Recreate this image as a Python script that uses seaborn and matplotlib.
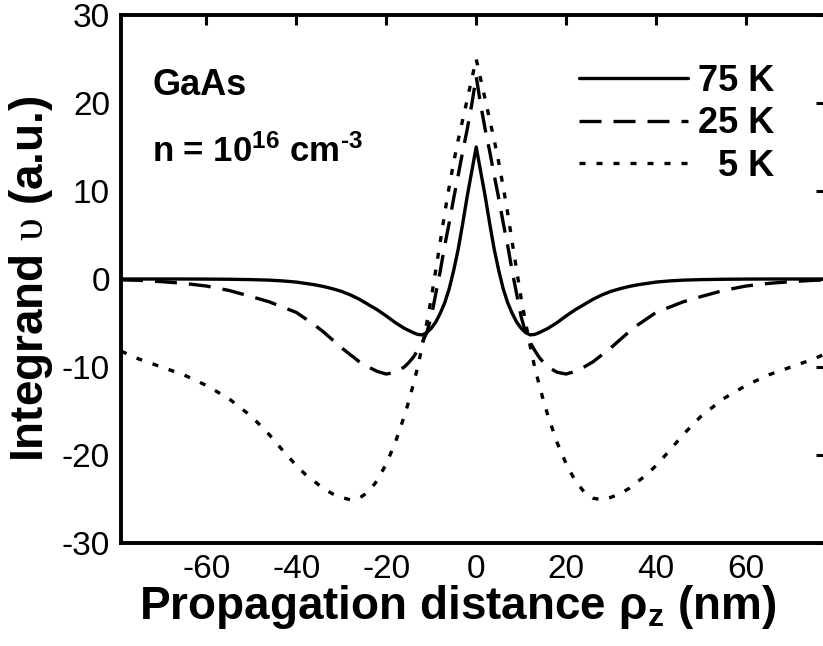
import matplotlib
matplotlib.use("Agg")
import matplotlib.pyplot as plt
import seaborn as sns
import numpy as np

# ---- data ----
X_NM = [-79, -75, -70, -65, -60, -55, -50, -46, -43, -40, -38, -36, -34, -32, -30,
        -28, -26, -24, -22, -20, -18, -16, -15, -14, -13, -12, -11, -10, -9, -8,
        -7, -6, -5, -4, -3, -2, -1, 0, 1, 2, 3, 4, 5, 6, 7, 8, 9, 10, 11, 12, 13,
        14, 15, 16, 18, 20, 22, 24, 26, 28, 30, 32, 34, 36, 38, 40, 43, 46, 50,
        55, 60, 65, 70, 75, 79]

Y_75K = [0, 0, 0, 0, -0.01, -0.03, -0.07, -0.13, -0.22, -0.35, -0.5, -0.65, -0.85, -1.1, -1.4,
         -1.8, -2.3, -2.9, -3.5, -4.2, -4.95, -5.6, -5.85, -6.1, -6.3, -6.35, -6.1, -5.6, -4.9, -3.9,
         -2.7, -1.1, 1.0, 3.4, 6.3, 9.4, 12.2, 15.0, 12.2, 9.4, 6.3, 3.4, 1.0, -1.1, -2.7, -3.9, -4.9, -5.6, -6.1, -6.35, -6.3,
         -6.1, -5.85, -5.6, -4.95, -4.2, -3.5, -2.9, -2.3, -1.8, -1.4, -1.1, -0.85, -0.65, -0.5, -0.35, -0.22, -0.13, -0.07,
         -0.03, -0.01, 0, 0, 0, 0]

Y_25K = [-0.1, -0.15, -0.3, -0.5, -0.8, -1.3, -2.0, -2.6, -3.2, -3.8, -4.5, -5.2, -6.0, -6.9, -7.8,
         -8.6, -9.4, -10.0, -10.5, -10.8, -10.6, -10.0, -9.5, -8.9, -8.1, -7.2, -6.1, -4.3, -1.7, 0.9,
         3.8, 6.4, 9.2, 11.8, 14.5, 17.0, 19.8, 23.0, 19.8, 17.0, 14.5, 11.8, 9.2, 6.4, 3.8, 0.9, -1.7, -4.3, -6.1, -7.2, -8.1,
         -8.9, -9.5, -10.0, -10.6, -10.8, -10.5, -10.0, -9.4, -8.6, -7.8, -6.9, -6.0, -5.2, -4.5, -3.8, -3.2, -2.6, -2.0,
         -1.3, -0.8, -0.5, -0.3, -0.15, -0.1]

Y_5K = [-8.2, -9.1, -10.0, -10.9, -12.1, -13.6, -15.6, -17.7, -19.5, -21.2, -22.2, -23.0, -23.8, -24.4, -24.8,
        -25.1, -24.9, -24.2, -22.9, -21.0, -18.6, -15.6, -13.9, -12.0, -10.0, -7.6, -5.0, -2.2, 1.0, 4.2,
        7.5, 10.5, 13.3, 15.8, 18.1, 20.4, 22.7, 25.0, 22.7, 20.4, 18.1, 15.8, 13.3, 10.5, 7.5, 4.2, 1.0, -2.2, -5.0, -7.6, -10.0,
        -12.0, -13.9, -15.6, -18.6, -21.0, -22.9, -24.2, -24.9, -25.1, -24.8, -24.4, -23.8, -23.0, -22.2, -21.2, -19.5, -17.7, -15.6,
        -13.6, -12.1, -10.9, -10.0, -9.1, -8.2]

SERIES_LABELS = ["75 K", "25 K", "  5 K"]
X_TICKS = [-60, -40, -20, 0, 20, 40, 60]
Y_TICKS = [-30, -20, -10, 0, 10, 20, 30]

# ---- style ----
sns.set_theme(style="white")
plt.rcParams["font.family"] = ["Liberation Sans", "DejaVu Sans"]
plt.rcParams["mathtext.fontset"] = "custom"
plt.rcParams["mathtext.rm"] = "Liberation Sans:bold"
plt.rcParams["mathtext.it"] = "Liberation Sans:bold"
plt.rcParams["mathtext.bf"] = "Liberation Sans:bold"
plt.rcParams["mathtext.sf"] = "Liberation Serif"
plt.rcParams["axes.unicode_minus"] = False
for k in ["text.color", "axes.labelcolor", "xtick.color", "ytick.color", "axes.edgecolor"]:
    plt.rcParams[k] = "black"

fig = plt.figure(figsize=(8.23, 6.46), dpi=100)
ax = fig.add_axes([121 / 823, 103 / 646, 705 / 823, 528 / 646])

LW = 2.4
styles = ["-", (0, (6.6, 3.6)), (0, (1.8, 3.3))]
for yv, lab, ls in zip([Y_75K, Y_25K, Y_5K], SERIES_LABELS, styles):
    sns.lineplot(x=X_NM, y=yv, ax=ax, color="black", lw=LW, linestyle=ls,
                 label=lab, legend=False)

ax.set_xlim(-79, 77.8)
ax.set_ylim(-30, 30)
ax.set_xticks(X_TICKS)
ax.set_yticks(Y_TICKS)
ax.tick_params(direction="in", length=7, width=2.2, top=True, right=True,
               labelsize=24, pad=8, colors="black")
for sp in ax.spines.values():
    sp.set_linewidth(2.8)
    sp.set_color("black")

ax.set_xlabel("Propagation distance ρ$_{\\rm z}$ (nm)", fontsize=33,
              fontweight="bold", color="black")
ax.xaxis.set_label_coords(0.477, -0.075)
ax.set_ylabel("Integrand $\\mathsf{υ}$ (a.u.)", fontsize=33,
              fontweight="bold", color="black")
ax.yaxis.set_label_coords(-0.093, 0.5)

ax.text(0.044, 0.8485, "GaAs", transform=ax.transAxes, fontsize=26,
        fontweight="bold", va="baseline", ha="left")
ax.text(0.044, 0.7216, "n = 10$^{16}$ cm$^{\u2010 3}$", transform=ax.transAxes,
        fontsize=25, fontweight="bold", va="baseline", ha="left")

leg = ax.legend(loc="upper left", bbox_to_anchor=(0.65, 0.908), frameon=False,
                borderpad=0, borderaxespad=0, handlelength=3.0,
                handletextpad=0.3, labelspacing=0.21,
                prop={"weight": "bold", "size": 26})

fig.savefig("out.png", dpi=100)
